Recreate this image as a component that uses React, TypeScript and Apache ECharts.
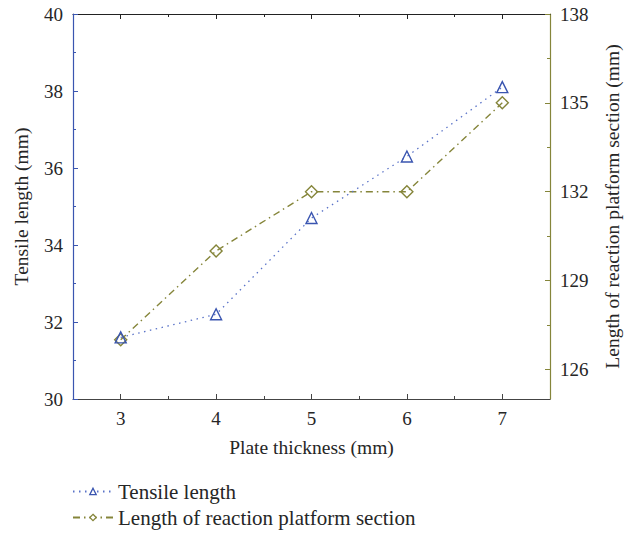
import React, { useEffect, useRef } from "react";
import * as echarts from "echarts";

const thickness = [3, 4, 5, 6, 7];
const tensileLength = [31.6, 32.2, 34.7, 36.3, 38.1];
const platformLength = [127, 130, 132, 132, 135];
const xMinorTicks = [3.5, 4.5, 5.5, 6.5];
const rightMajorTicks = [126, 129, 132, 135, 138];
const rightMinorTicks = [127.5, 130.5, 133.5, 136.5];

const BLUE = "#3a55b0";
const OLIVE = "#85853a";
const TEXT = "#262626";
const FONT = "'Liberation Serif', 'DejaVu Serif', serif";

export default function App() {
  const ref = useRef<HTMLDivElement>(null);
  useEffect(() => {
    const chart = echarts.init(ref.current!, null, { renderer: "svg" });
    const tickLabel = { fontFamily: FONT, fontSize: 19, color: TEXT };
    chart.setOption({
      animation: false,
      backgroundColor: "#fff",
      textStyle: { fontFamily: FONT },
      grid: { left: 73, right: 83, top: 14, bottom: 134, containLabel: false },
      legend: {
        orient: "vertical",
        left: 72,
        top: 481,
        padding: 0,
        itemWidth: 40,
        itemHeight: 8,
        itemGap: 5,
        itemStyle: { color: "#ffffff", borderWidth: 1.3 },
        textStyle: { fontFamily: FONT, fontSize: 21, color: TEXT },
        data: ["Tensile length", "Length of reaction platform section"],
      },
      xAxis: [
        {
          type: "value",
          position: "bottom",
          min: 2.5,
          max: 7.5,
          name: "Plate thickness (mm)",
          nameLocation: "middle",
          nameGap: 38,
          nameTextStyle: { fontFamily: FONT, fontSize: 19.5, color: TEXT },
          axisLine: { show: true, lineStyle: { color: "#444", width: 1.2 } },
          axisTick: { show: true, inside: true, length: 5, customValues: thickness, lineStyle: { color: "#444" } },
          axisLabel: { ...tickLabel, margin: 10, customValues: thickness },
          splitLine: { show: false },
        },
        {
          type: "value",
          position: "bottom",
          min: 2.5,
          max: 7.5,
          axisLine: { show: false },
          axisTick: { show: true, inside: true, length: 3, customValues: xMinorTicks, lineStyle: { color: "#444" } },
          axisLabel: { show: false },
          splitLine: { show: false },
        },
        {
          type: "value",
          position: "top",
          min: 2.5,
          max: 7.5,
          axisLine: { show: true, lineStyle: { color: "#222", width: 1.2 } },
          axisTick: { show: true, inside: true, length: 5, customValues: thickness, lineStyle: { color: "#222" } },
          axisLabel: { show: false },
          splitLine: { show: false },
        },
        {
          type: "value",
          position: "top",
          min: 2.5,
          max: 7.5,
          axisLine: { show: false },
          axisTick: { show: true, inside: true, length: 3, customValues: xMinorTicks, lineStyle: { color: "#222" } },
          axisLabel: { show: false },
          splitLine: { show: false },
        },
      ],
      yAxis: [
        {
          type: "value",
          position: "left",
          min: 30,
          max: 40,
          interval: 2,
          name: "Tensile length (mm)",
          nameLocation: "middle",
          nameGap: 42,
          nameTextStyle: { fontFamily: FONT, fontSize: 19.5, color: TEXT },
          axisLine: { show: true, lineStyle: { color: BLUE, width: 1.2 } },
          axisTick: { show: true, inside: true, length: 5, lineStyle: { color: BLUE } },
          minorTick: { show: true, splitNumber: 2, length: 3, lineStyle: { color: BLUE } },
          axisLabel: { ...tickLabel, margin: 10 },
          splitLine: { show: false },
          minorSplitLine: { show: false },
        },
        {
          type: "value",
          position: "right",
          min: 125,
          max: 138,
          name: "Length of reaction platform section (mm)",
          nameLocation: "middle",
          nameGap: 52,
          nameRotate: 90,
          nameTextStyle: { fontFamily: FONT, fontSize: 19.5, color: TEXT },
          axisLine: { show: true, lineStyle: { color: OLIVE, width: 1.2 } },
          axisTick: { show: true, inside: true, length: 5, customValues: rightMajorTicks, lineStyle: { color: OLIVE } },
          axisLabel: { ...tickLabel, margin: 10, customValues: rightMajorTicks },
          splitLine: { show: false },
        },
        {
          type: "value",
          position: "right",
          min: 125,
          max: 138,
          axisLine: { show: false },
          axisTick: { show: true, inside: true, length: 3, customValues: rightMinorTicks, lineStyle: { color: OLIVE } },
          axisLabel: { show: false },
          splitLine: { show: false },
        },
      ],
      series: [
        {
          name: "Tensile length",
          type: "line",
          xAxisIndex: 0,
          yAxisIndex: 0,
          data: thickness.map((x, i) => [x, tensileLength[i]]),
          symbol: "triangle",
          symbolSize: 11,
          itemStyle: { color: "rgba(255,255,255,0)", borderColor: BLUE, borderWidth: 1.4 },
          lineStyle: { color: "#5a73c8", width: 1.3, type: [1.5, 4.5] },
          z: 3,
        },
        {
          name: "Length of reaction platform section",
          type: "line",
          xAxisIndex: 0,
          yAxisIndex: 1,
          data: thickness.map((x, i) => [x, platformLength[i]]),
          symbol: "diamond",
          symbolSize: 12,
          itemStyle: { color: "rgba(255,255,255,0)", borderColor: OLIVE, borderWidth: 1.4 },
          lineStyle: { color: OLIVE, width: 1.4, type: [7, 4, 1.5, 4] },
          z: 2,
        },
      ],
    });
    return () => chart.dispose();
  }, []);
  return <div ref={ref} style={{ width: 633, height: 533, position: "absolute", left: 0, top: 0 }} />;
}
